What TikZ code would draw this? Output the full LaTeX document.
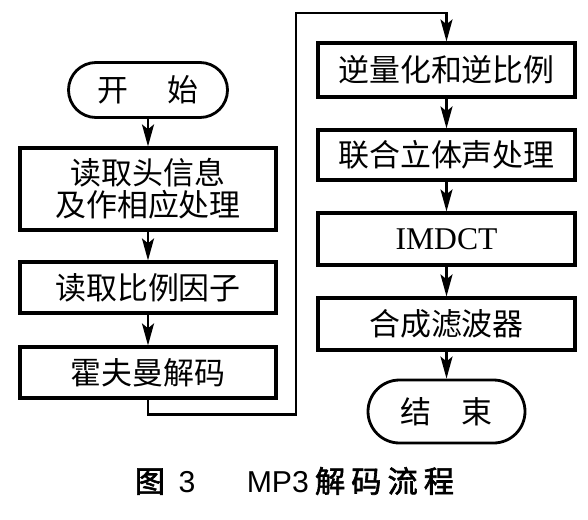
\documentclass[tikz,border=0pt]{standalone}
\usepackage{fontspec}
\usepackage{tikz}
\usetikzlibrary{arrows.meta}
\setmainfont{Noto Sans CJK SC}[AutoFakeBold=2]
\newfontfamily\latinserif{Liberation Serif}
\newfontfamily\latinsans{Liberation Sans}

\begin{document}
\begin{tikzpicture}[>={Stealth[length=5.5mm,width=3mm,inset=1.2mm]},line cap=round,
  font=\fontsize{22}{23}\selectfont,
  proc/.style={draw,line width=2.2pt,minimum width=6.4cm,inner sep=0pt,align=center},
  term/.style={draw,line width=2pt,inner sep=0pt},
  flow/.style={->,line width=1.8pt}]
\useasboundingbox (0,0) rectangle (14.7,12.975);
% left column
\node[term,minimum width=3.975cm,minimum height=1.375cm,rounded corners=0.6875cm] (start) at (3.7,10.725) {开\hspace{1.25em}始};
\node[proc,minimum height=2.05cm] (hdr) at (3.7,8.25) {读取头信息\\及作相应处理};
\node[proc,minimum height=1.275cm] (scf) at (3.7,5.7875) {读取比例因子};
\node[proc,minimum height=1.275cm] (huff) at (3.7,3.6625) {霍夫曼解码};
% right column
\node[proc,minimum width=6.425cm,minimum height=1.35cm] (deq) at (11.1625,11.225) {逆量化和逆比例};
\node[proc,minimum width=6.425cm,minimum height=1.25cm] (stereo) at (11.1625,9.1) {联合立体声处理};
\node[proc,minimum width=6.425cm,minimum height=1.3cm] (imdct) at (11.1625,7.0) {\latinserif\fontsize{22.5}{24}\selectfont IMDCT};
\node[proc,minimum width=6.425cm,minimum height=1.3cm] (synth) at (11.1625,4.875) {合成滤波器};
\node[term,minimum width=3.925cm,minimum height=1.575cm,rounded corners=0.7875cm] (stop) at (11.1625,2.6875) {结\hspace{1em}束};
% connectors
\draw[flow] (start) -- (hdr);
\draw[flow] (hdr) -- (scf);
\draw[flow] (scf) -- (huff);
\coordinate (turn) at (7.4,12.65);
\draw[flow] (huff.south) -- ++(0,-0.375) -| (turn) -| (deq.north);
\draw[flow] (deq) -- (stereo);
\draw[flow] (stereo) -- (imdct);
\draw[flow] (imdct) -- (synth);
\draw[flow] (synth) -- (stop);
% caption
\node[font=\fontsize{21.5}{22}\selectfont\bfseries] (cap) at (7.36,0.95)
  {图\hspace{0.45em}{\latinsans\mdseries 3}\hspace{1.7em}{\latinsans\mdseries MP3}\hspace{0.2em}解\hspace{0.2em}码\hspace{0.2em}流\hspace{0.2em}程};
\end{tikzpicture}
\end{document}
